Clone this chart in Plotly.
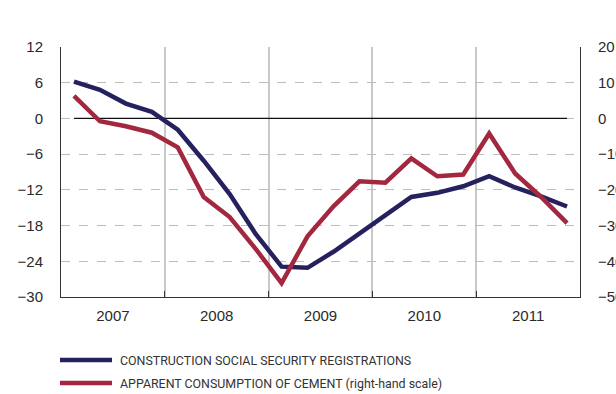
import plotly.graph_objects as go

# Quarterly series, 2007 Q1 - 2011 Q4 (year-on-year % change)
quarters = [f"{y} Q{q}" for y in range(2007, 2012) for q in range(1, 5)]
years = ["2007", "2008", "2009", "2010", "2011"]

registrations = [6.2, 4.8, 2.5, 1.1, -1.9, -7.1, -12.7, -19.4, -24.9, -25.1,
                 -22.4, -19.3, -16.3, -13.2, -12.5, -11.4, -9.7, -11.6, -13.1, -14.8]
cement = [6.3, -0.8, -2.2, -4.0, -8.1, -22.0, -27.6, -36.5, -46.1, -33.0,
          -24.6, -17.6, -18.0, -11.2, -16.2, -15.7, -4.2, -15.4, -22.0, -29.3]

left_ticks = [12, 6, 0, -6, -12, -18, -24, -30]
right_ticks = [20, 10, 0, -10, -20, -30, -40, -50]

BLUE = "#25215f"
RED = "#a3283f"
INK = "#2a2a2a"
FONT = "Liberation Sans"

xpos = list(range(len(quarters)))
year_centres = [4 * i + 1.5 for i in range(len(years))]

fig = go.Figure()
fig.add_trace(go.Scatter(x=xpos, y=registrations, mode="lines",
                         line=dict(color=BLUE, width=4.5),
                         name="CONSTRUCTION SOCIAL SECURITY REGISTRATIONS",
                         hovertext=quarters))
fig.add_trace(go.Scatter(x=xpos, y=cement, mode="lines", yaxis="y2",
                         line=dict(color=RED, width=4.5),
                         name="APPARENT CONSUMPTION OF CEMENT (right-hand scale)",
                         hovertext=quarters))

fig.update_layout(
    width=616, height=394,
    margin=dict(l=61, r=36, t=47, b=97, autoexpand=False),
    paper_bgcolor="white", plot_bgcolor="white",
    showlegend=False,
    font=dict(family=FONT, size=14, color=INK),
    xaxis=dict(
        range=[-0.5, len(quarters) - 0.5], automargin=False,
        tickmode="array", tickvals=year_centres, ticktext=years,
        ticks="", showgrid=False, zeroline=False,
        showline=True, linecolor="#333333", linewidth=1,
        tickfont=dict(size=15, color=INK),
        ticklabelstandoff=5,
        minor=dict(tickmode="array",
                   tickvals=[4 * i - 0.5 for i in range(1, len(years))],
                   ticks="inside", ticklen=6, tickcolor="#333333",
                   showgrid=True, gridcolor="#c8c8c8", gridwidth=1.5),
    ),
    yaxis=dict(
        range=[-30, 12], tickmode="array", tickvals=left_ticks, automargin=False,
        showgrid=True, gridcolor="#bdbdbd", griddash="dash", gridwidth=1,
        zeroline=False, showline=True, linecolor="#333333", linewidth=1,
        ticks="", ticklabelstandoff=14,
        tickfont=dict(size=15, color=INK),
    ),
    yaxis2=dict(
        range=[-50, 20], tickmode="array", tickvals=right_ticks, automargin=False,
        overlaying="y", side="right", showgrid=False, zeroline=False,
        showline=True, linecolor="#333333", linewidth=1,
        ticks="", ticklabelstandoff=14,
        tickfont=dict(size=15, color=INK),
    ),
)

# Solid zero reference line spanning the observed quarters
fig.add_shape(type="line", xref="x", yref="y", x0=xpos[0], x1=xpos[-1], y0=0, y1=0,
              line=dict(color="#111111", width=1.2), layer="between")

# Legend drawn underneath the chart
legend_rows = [(BLUE, fig.data[0].name, 360), (RED, fig.data[1].name, 383)]
for color, label, ypix in legend_rows:
    yp = 1 - (ypix - 47) / 250
    fig.add_shape(type="line", xref="paper", yref="paper",
                  x0=(60 - 61) / 519, x1=(112 - 61) / 519, y0=yp, y1=yp,
                  line=dict(color=color, width=4.5))
    fig.add_annotation(xref="paper", yref="paper", x=(118 - 61) / 519, y=yp,
                       xanchor="left", yanchor="middle", showarrow=False,
                       text=label, font=dict(family="Roboto", size=12.4, color="#333333"))

fig.write_html("out.html")
